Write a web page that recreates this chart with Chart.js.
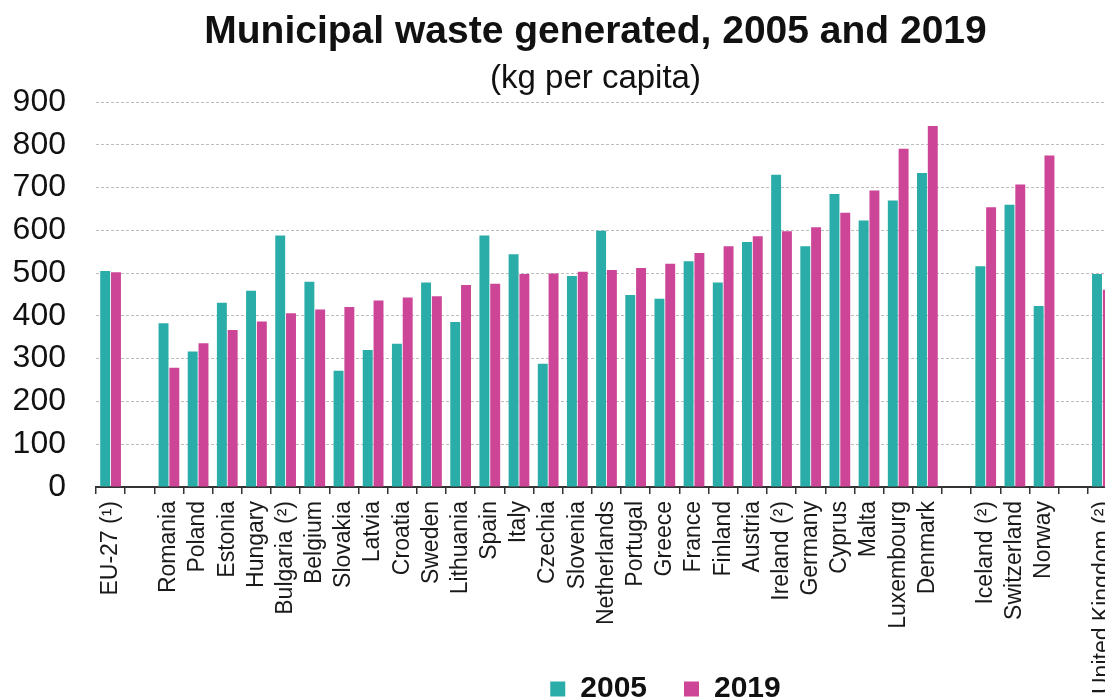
<!DOCTYPE html>
<html>
<head>
<meta charset="utf-8">
<title>Municipal waste generated</title>
<script src="https://cdn.jsdelivr.net/npm/chart.js@4/dist/chart.umd.min.js"></script>
<style>
  html, body { margin:0; padding:0; background:#fff; overflow:hidden; }
  canvas { display:block; }
</style>
</head>
<body>
<canvas id="wasteChart" width="1137" height="777"></canvas>
<script>
// ── Municipal waste per capita, 2005 vs 2019 ─────────────────
// empty labels are spacer slots between the country groups

const countries = [
  'EU-27 (¹)', '',
  'Romania', 'Poland', 'Estonia', 'Hungary', 'Bulgaria (²)', 'Belgium', 'Slovakia',
  'Latvia', 'Croatia', 'Sweden', 'Lithuania', 'Spain', 'Italy', 'Czechia', 'Slovenia',
  'Netherlands', 'Portugal', 'Greece', 'France', 'Finland', 'Austria', 'Ireland (²)',
  'Germany', 'Cyprus', 'Malta', 'Luxembourg', 'Denmark', '',
  'Iceland (²)', 'Switzerland', 'Norway', '',
  'United Kingdom (²)'
];

const waste2005 = [
  505, null,
  383, 317, 431, 459, 588, 480, 272,
  320, 335, 478, 386, 588, 544, 288, 493,
  599, 449, 440, 528, 478, 573, 730,
  563, 685, 623, 670, 734, null,
  516, 660, 423, null,
  498
];

const waste2019 = [
  502, null,
  279, 336, 367, 387, 406, 415, 421,
  436, 443, 446, 472, 475, 498, 499, 503,
  507, 512, 522, 547, 563, 586, 598,
  607, 641, 693, 791, 844, null,
  654, 707, 775, null,
  461
];

const yearLabels = ['2005', '2019'];
const yMin = 0, yMax = 900, yStep = 100;

const TEAL    = '#2aaca8';
const MAGENTA = '#cc4597';
const FONT    = "'Liberation Sans', Arial, sans-serif";

// shift the title block and the legend sideways (and the legend up
// into the space under the rotated labels)
const boxShift = {
  id: 'boxShift',
  afterLayout(chart, args, opts) {
    const titleType = chart.titleBlock && chart.titleBlock.constructor;
    chart.boxes.forEach(b => {
      if (b === chart.legend) {
        b.left += opts.legendX; b.right += opts.legendX;
        b.top  += opts.legendY; b.bottom += opts.legendY;
      } else if (titleType && b.constructor === titleType) {
        b.left += opts.titleX; b.right += opts.titleX;
      }
    });
  }
};

new Chart(document.getElementById('wasteChart'), {
  type: 'bar',
  data: {
    labels: countries,
    datasets: [
      { label: yearLabels[0], data: waste2005, backgroundColor: TEAL },
      { label: yearLabels[1], data: waste2019, backgroundColor: MAGENTA }
    ]
  },
  options: {
    responsive: false,
    animation: false,
    categoryPercentage: 0.74,
    barPercentage: 0.92,
    layout: { padding: 0 },
    plugins: {
      title: {
        display: true,
        text: 'Municipal waste generated, 2005 and 2019',
        color: '#111',
        font: { family: FONT, size: 39, weight: 'bold', lineHeight: 1 },
        padding: { top: 13, bottom: 0 }
      },
      subtitle: {
        display: true,
        text: '(kg per capita)',
        color: '#111',
        font: { family: FONT, size: 33, lineHeight: 1 },
        padding: { top: 10, bottom: 7 }
      },
      legend: {
        position: 'bottom',
        labels: {
          color: '#111',
          font: { family: FONT, size: 30, weight: 'bold' },
          boxWidth: 15, boxHeight: 15, padding: 37
        }
      },
      boxShift: { titleX: 27, legendX: 97, legendY: -63 },
      tooltip: { enabled: false }
    },
    scales: {
      x: {
        afterFit: s => { s.height = 213; },
        grid: { display: true, drawOnChartArea: false, drawTicks: true, tickLength: 7, color: '#333', lineWidth: 1.5, offset: true },
        border: { display: true, color: '#333', width: 2 },
        ticks: {
          autoSkip: false, maxRotation: 90, minRotation: 90, padding: 7,
          color: '#1a1a1a', font: { family: FONT, size: 23 }
        }
      },
      y: {
        min: yMin, max: yMax,
        afterFit: s => { s.width = 96; },
        grid: { color: '#bdbdbd', lineWidth: 1, drawTicks: false },
        border: { display: false, dash: [3, 2] },
        ticks: {
          stepSize: yStep, padding: 30,
          color: '#111', font: { family: FONT, size: 32 }
        }
      }
    }
  },
  plugins: [boxShift]
});
</script>
</body>
</html>
